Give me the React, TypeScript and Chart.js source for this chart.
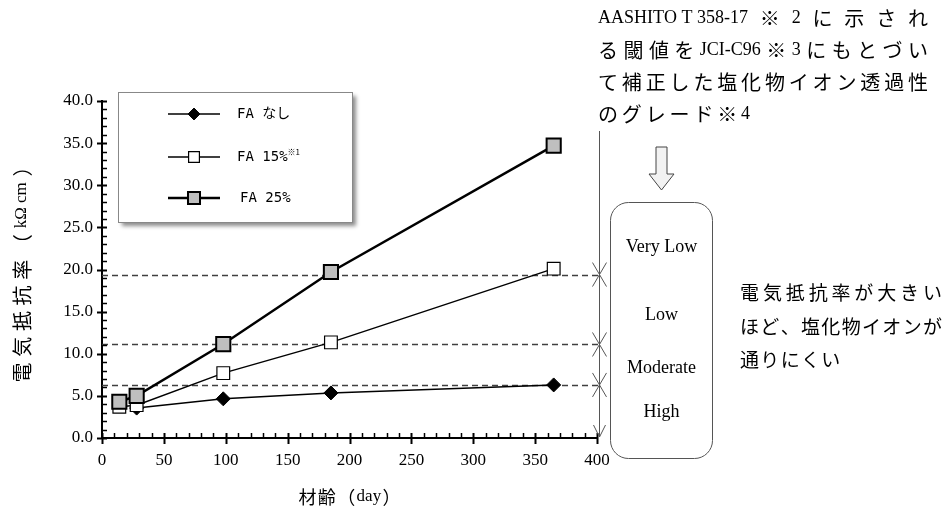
import React, { useEffect, useRef } from 'react';
import { Chart, registerables } from 'chart.js';
import { drawPoint } from 'chart.js/helpers';

Chart.register(...registerables);

// ---- data ----
const ageDays = [14, 28, 98, 185, 365];
const faNone = [null, 3.55, 4.65, 5.35, 6.3];
const fa15 = [3.7, 3.9, 7.7, 11.35, 20.1];
const fa25 = [4.3, 5.0, 11.15, 19.7, 34.7];
const seriesNames = ['FA なし', 'FA 15%', 'FA 25%'];
const seriesNotes = ['', '※1', ''];
const gradeThresholds = [6.3, 11.1, 19.4];
const gradeNames = ['High', 'Moderate', 'Low', 'Very Low'];
const xAxisTitle = '材齢（day）';
const yAxisTitle = '電気抵抗率（kΩ cm）';
const noteLines = [
  'AASHITO T 358-17※2に示され',
  'る閾値をJCI-C96※3にもとづい',
  'て補正した塩化物イオン透過性',
  'のグレード※4',
];
const sideLines = ['電気抵抗率が大きい', 'ほど、塩化物イオンが', '通りにくい'];

const SERIF = "'Liberation Serif', 'Noto Sans CJK JP', serif";
const JP = "'Noto Sans CJK JP', sans-serif";
const LEGEND_FONT = "'DejaVu Sans Mono', 'Noto Sans CJK JP', monospace";
const CJK = /[\u2E80-\u9FFF\uF900-\uFAFF\uFF00-\uFFEF\u3000-\u303F\u203B]/;

// draws text char by char; latin/CJK chars use their own fonts.
// Extra spacing is put only at pairs that involve a CJK char (latin runs stay natural).
function drawMixed(
  ctx: CanvasRenderingContext2D, text: string, x: number, y: number,
  latinFont: string, cjkFont: string, width: number | null, gapIn = 0,
): number {
  const chars = Array.from(text);
  const isC = chars.map((c) => CJK.test(c));
  const fonts = chars.map((c, i) => (isC[i] ? cjkFont : latinFont));
  const w = chars.map((c, i) => { ctx.font = fonts[i]; return ctx.measureText(c).width; });
  const total = w.reduce((a, b) => a + b, 0);
  const slot = (i: number) => isC[i] || isC[i + 1];
  let slots = 0;
  for (let i = 0; i < chars.length - 1; i++) if (slot(i)) slots++;
  const gap = width != null && slots > 0 ? (width - total) / slots : gapIn;
  let cx = x;
  chars.forEach((c, i) => {
    ctx.font = fonts[i];
    ctx.fillText(c, cx, y);
    cx += w[i] + (i < chars.length - 1 && slot(i) ? gap : 0);
  });
  return gap;
}

const overlayPlugin = {
  id: 'overlay',
  beforeDatasetsDraw(chart: any) {
    const { ctx, chartArea, scales } = chart;
    const ys = scales.y;
    ctx.save();
    ctx.strokeStyle = '#404040';
    ctx.lineWidth = 1.5;
    ctx.setLineDash([6, 4]);
    gradeThresholds.forEach((v) => {
      const y = Math.round(ys.getPixelForValue(v)) + 0.5;
      ctx.beginPath();
      ctx.moveTo(chartArea.left, y);
      ctx.lineTo(chartArea.right + 2, y);
      ctx.stroke();
    });
    ctx.restore();
  },
  afterDraw(chart: any) {
    const { ctx, chartArea, scales } = chart;
    const xs = scales.x;
    const ys = scales.y;
    ctx.save();
    // ---- tick marks ----
    ctx.strokeStyle = '#000';
    for (let v = 0; v <= 40; v += 1) {
      const y = Math.round(ys.getPixelForValue(v)) + 0.5;
      const major = v % 5 === 0;
      ctx.lineWidth = major ? 2 : 1.5;
      ctx.beginPath();
      ctx.moveTo(chartArea.left - (major ? 5 : 0), y);
      ctx.lineTo(chartArea.left + 5, y);
      ctx.stroke();
    }
    for (let v = 0; v <= 400; v += 10) {
      const x = Math.round(xs.getPixelForValue(v)) + 0.5;
      const major = v % 50 === 0;
      ctx.lineWidth = major ? 2 : 1.5;
      ctx.beginPath();
      ctx.moveTo(x, chartArea.bottom - 5);
      ctx.lineTo(x, chartArea.bottom + (major ? 6 : 0));
      ctx.stroke();
    }

    // ---- axis titles ----
    ctx.fillStyle = '#000';
    ctx.textBaseline = 'middle';
    ctx.textAlign = 'left';
    drawMixed(ctx, xAxisTitle, (chartArea.left + chartArea.right) / 2 - 51, 497, `17px ${SERIF}`, `18px ${JP}`, 102);
    ctx.save();
    ctx.translate(22, (chartArea.top + chartArea.bottom) / 2);
    ctx.rotate(-Math.PI / 2);
    drawMixed(ctx, yAxisTitle, -113, 0, `17px ${SERIF}`, `20px ${JP}`, 226);
    ctx.restore();

    // ---- legend ----
    const lx = 118, ly = 92, lw = 234, lh = 130;
    ctx.save();
    ctx.shadowColor = 'rgba(0,0,0,0.45)';
    ctx.shadowBlur = 4;
    ctx.shadowOffsetX = 4;
    ctx.shadowOffsetY = 4;
    ctx.fillStyle = '#fff';
    ctx.fillRect(lx, ly, lw, lh);
    ctx.restore();
    ctx.strokeStyle = '#888';
    ctx.lineWidth = 1;
    ctx.strokeRect(lx + 0.5, ly + 0.5, lw, lh);
    const rowY = [114, 157, 198];
    chart.data.datasets.forEach((ds: any, i: number) => {
      const y = rowY[i];
      ctx.strokeStyle = ds.borderColor;
      ctx.lineWidth = ds.borderWidth;
      ctx.beginPath();
      ctx.moveTo(168, y);
      ctx.lineTo(220, y);
      ctx.stroke();
      ctx.fillStyle = ds.pointBackgroundColor;
      ctx.strokeStyle = ds.pointBorderColor;
      ctx.lineWidth = ds.pointBorderWidth;
      drawPoint(ctx, { pointStyle: ds.pointStyle, radius: ds.pointRadius * 0.85, borderWidth: ds.pointBorderWidth, rotation: 0 } as any, 194, y);
      ctx.fillStyle = '#000';
      ctx.font = `14px ${LEGEND_FONT}`;
      ctx.textBaseline = 'middle';
      const tx = i === 2 ? 240 : 237;
      ctx.fillText(ds.label, tx, y);
      if (seriesNotes[i]) {
        const w = ctx.measureText(ds.label).width;
        ctx.font = `8px ${JP}`;
        ctx.fillText(seriesNotes[i], tx + w, y - 5);
      }
    });

    // ---- grade annotation ----
    const vx = chartArea.right + 2.5;
    ctx.strokeStyle = '#555';
    ctx.lineWidth = 1;
    ctx.beginPath();
    ctx.moveTo(vx, 131);
    ctx.lineTo(vx, ys.getPixelForValue(0) - 1);
    ctx.stroke();
    gradeThresholds.forEach((v) => {
      const y = ys.getPixelForValue(v);
      ctx.beginPath();
      ctx.moveTo(vx - 7, y - 12); ctx.lineTo(vx, y); ctx.lineTo(vx + 7, y - 12);
      ctx.moveTo(vx - 7, y + 12); ctx.lineTo(vx, y); ctx.lineTo(vx + 7, y + 12);
      ctx.stroke();
    });
    const y0 = ys.getPixelForValue(0) - 1;
    ctx.beginPath();
    ctx.moveTo(vx - 6, y0 - 12); ctx.lineTo(vx, y0); ctx.lineTo(vx + 6, y0 - 12);
    ctx.stroke();

    // rounded box
    const bx = 610.5, by = 202.5, bw = 102, bh = 256, r = 18;
    ctx.beginPath();
    ctx.moveTo(bx + r, by);
    ctx.arcTo(bx + bw, by, bx + bw, by + bh, r);
    ctx.arcTo(bx + bw, by + bh, bx, by + bh, r);
    ctx.arcTo(bx, by + bh, bx, by, r);
    ctx.arcTo(bx, by, bx + bw, by, r);
    ctx.closePath();
    ctx.strokeStyle = '#555';
    ctx.stroke();
    const gradeAt = [3.0, 8.3, 14.6, 22.6];
    ctx.fillStyle = '#000';
    ctx.font = `18px ${SERIF}`;
    ctx.textAlign = 'center';
    ctx.textBaseline = 'middle';
    gradeNames.forEach((g, i) => ctx.fillText(g, bx + bw / 2, ys.getPixelForValue(gradeAt[i])));

    // hollow down arrow
    const ax = bx + bw / 2;
    ctx.beginPath();
    ctx.moveTo(ax - 5.5, 147);
    ctx.lineTo(ax + 5.5, 147);
    ctx.lineTo(ax + 5.5, 174);
    ctx.lineTo(ax + 12.5, 174);
    ctx.lineTo(ax, 190);
    ctx.lineTo(ax - 12.5, 174);
    ctx.lineTo(ax - 5.5, 174);
    ctx.closePath();
    ctx.fillStyle = '#f2f2f2';
    ctx.fill();
    ctx.strokeStyle = '#444';
    ctx.stroke();

    // note text
    ctx.textAlign = 'left';
    ctx.fillStyle = '#000';
    let gap = 0;
    noteLines.forEach((line, i) => {
      const y = 18 + i * 32;
      if (i < noteLines.length - 1) gap = drawMixed(ctx, line, 598, y, `18px ${SERIF}`, `20px ${JP}`, 330);
      else drawMixed(ctx, line, 598, y, `18px ${SERIF}`, `20px ${JP}`, null, gap);
    });
    let g2 = 0;
    sideLines.forEach((line, i) => {
      const y = 293 + i * 33.5;
      if (i < sideLines.length - 1) g2 = drawMixed(ctx, line, 740, y, `19px ${JP}`, `19px ${JP}`, 202);
      else drawMixed(ctx, line, 740, y, `19px ${JP}`, `19px ${JP}`, null, g2);
    });
    ctx.restore();
  },
};

export default function App() {
  const ref = useRef<HTMLCanvasElement>(null);
  useEffect(() => {
    if (!ref.current) return;
    const mk = (vals: (number | null)[]) => ageDays.map((d, i) => ({ x: d, y: vals[i] })).filter((p) => p.y !== null);
    const chart = new Chart(ref.current, {
      type: 'line',
      data: {
        datasets: [
          {
            label: seriesNames[0], data: mk(faNone) as any, order: 2,
            borderColor: '#000', borderWidth: 1.5, backgroundColor: '#000',
            pointStyle: 'rectRot', pointRadius: 7, pointBackgroundColor: '#000', pointBorderColor: '#000', pointBorderWidth: 1,
          } as any,
          {
            label: seriesNames[1], data: mk(fa15) as any, order: 1,
            borderColor: '#000', borderWidth: 1.5, backgroundColor: '#fff',
            pointStyle: 'rect', pointRadius: 9, pointBackgroundColor: '#fff', pointBorderColor: '#000', pointBorderWidth: 1.2,
          } as any,
          {
            label: seriesNames[2], data: mk(fa25) as any, order: 0,
            borderColor: '#000', borderWidth: 2.5, backgroundColor: '#bfbfbf',
            pointStyle: 'rect', pointRadius: 10, pointBackgroundColor: '#bfbfbf', pointBorderColor: '#000', pointBorderWidth: 2,
          } as any,
        ],
      },
      options: {
        responsive: false,
        animation: false,
        devicePixelRatio: 1,
        layout: { padding: { left: 0, top: 101, right: 353, bottom: 0 } },
        plugins: { legend: { display: false }, tooltip: { enabled: false } },
        elements: { line: { tension: 0 } },
        scales: {
          x: {
            type: 'linear', min: 0, max: 400,
            grid: { display: false, drawTicks: false },
            border: { display: true, color: '#000', width: 2 },
            ticks: { stepSize: 50, color: '#000', padding: 12, font: { family: SERIF, size: 17 } },
            afterFit: (s: any) => { s.height = 73; },
          },
          y: {
            type: 'linear', min: 0, max: 40,
            grid: { display: false, drawTicks: false },
            border: { display: true, color: '#000', width: 2 },
            ticks: { stepSize: 5, color: '#000', padding: 9, font: { family: SERIF, size: 17 }, callback: (v: any) => Number(v).toFixed(1) },
            afterFit: (s: any) => { s.width = 102; },
          },
        },
      } as any,
      plugins: [overlayPlugin],
    });
    return () => chart.destroy();
  }, []);
  return (
    <div style={{ position: 'absolute', left: 0, top: 0, width: 950, height: 511, background: '#fff' }}>
      <canvas ref={ref} width={950} height={511} style={{ display: 'block' }} />
    </div>
  );
}
